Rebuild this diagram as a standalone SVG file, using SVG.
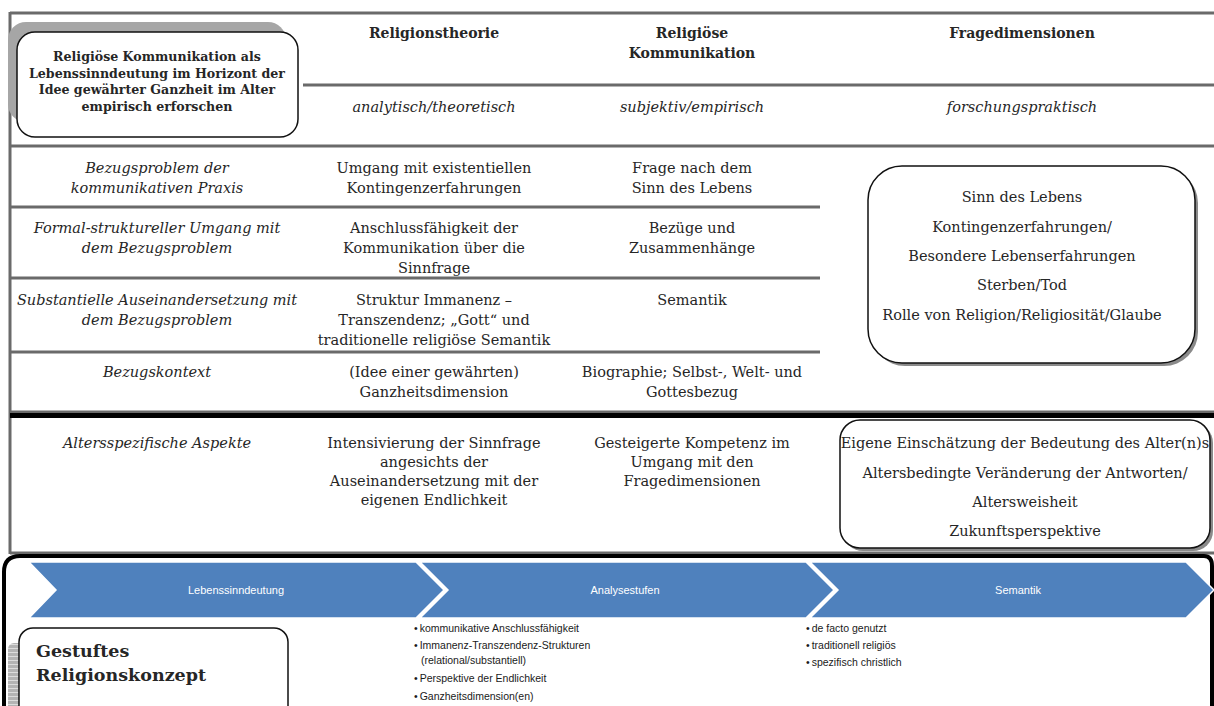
<svg xmlns="http://www.w3.org/2000/svg" width="1214" height="706" viewBox="0 0 1214 706">
<style>
.ln{stroke:#6a6a6a;stroke-width:3;fill:none}
.thick{stroke:#000;stroke-width:5;fill:none}
.hd{font-family:"DejaVu Serif",serif;font-weight:bold;font-size:14px;fill:#262626;text-anchor:middle}
.tx{font-family:"DejaVu Serif",serif;font-size:14.5px;fill:#262626;text-anchor:middle}
.it{font-family:"DejaVu Serif",serif;font-style:italic;font-size:14.5px;fill:#262626;text-anchor:middle}
.bx{font-family:"DejaVu Serif",serif;font-weight:bold;font-size:12.6px;fill:#262626;text-anchor:middle}
.big{font-family:"DejaVu Serif",serif;font-weight:bold;font-size:17.5px;fill:#262626}
.chev{fill:#4F81BD;stroke:#fff;stroke-width:1.5}
.cl{font-family:"Liberation Sans",Arial,sans-serif;font-size:11px;fill:#fff;text-anchor:middle}
.bl{font-family:"Liberation Sans",Arial,sans-serif;font-size:10.5px;fill:#1a1a1a}
.rbox{fill:#fff;stroke:#111;stroke-width:1.5}
.shadow{fill:#8a8a8a}
</style>
<defs>
<pattern id="stripes" width="6" height="4" patternUnits="userSpaceOnUse">
<rect width="6" height="4" fill="#b4b4b4"/>
<line x1="0" y1="0.5" x2="6" y2="0.5" stroke="#dcdcdc" stroke-width="1"/>
</pattern>
</defs>
<rect width="1214" height="706" fill="#fff"/>

<g id="table-lines">
<line class="ln" x1="10" y1="13" x2="1214" y2="13"/>
<line class="ln" x1="10" y1="12" x2="10" y2="554"/>
<line class="ln" x1="303" y1="85" x2="1214" y2="85"/>
<line class="ln" x1="10" y1="146" x2="1214" y2="146"/>
<line class="ln" x1="10" y1="207" x2="820" y2="207"/>
<line class="ln" x1="10" y1="278" x2="820" y2="278"/>
<line class="ln" x1="10" y1="352" x2="820" y2="352"/>
<line class="ln" x1="10" y1="412" x2="1214" y2="412" stroke-width="2"/>
<line class="thick" x1="10" y1="415.5" x2="1214" y2="415.5"/>
<line class="ln" x1="10" y1="553" x2="1214" y2="553"/>
</g>

<g id="title-box">
<rect x="8" y="22" width="278" height="100" rx="18" fill="#a6a6a6"/>
<rect class="rbox" x="17" y="32" width="281" height="105" rx="18"/>
<text class="bx" x="157" y="61">Religiöse Kommunikation als</text>
<text class="bx" x="157" y="77.5">Lebenssinndeutung im Horizont der</text>
<text class="bx" x="157" y="94">Idee gewährter Ganzheit im Alter</text>
<text class="bx" x="157" y="110.5">empirisch erforschen</text>
</g>

<g id="headers">
<text class="hd" x="434" y="38">Religionstheorie</text>
<text class="hd" x="692" y="38">Religiöse</text>
<text class="hd" x="692" y="58">Kommunikation</text>
<text class="hd" x="1022" y="38">Fragedimensionen</text>
<text class="it" x="434" y="112">analytisch/theoretisch</text>
<text class="it" x="692" y="112">subjektiv/empirisch</text>
<text class="it" x="1022" y="112">forschungspraktisch</text>
</g>

<g id="row1">
<text class="it" x="157" y="173">Bezugsproblem der</text>
<text class="it" x="157" y="193">kommunikativen Praxis</text>
<text class="tx" x="434" y="173">Umgang mit existentiellen</text>
<text class="tx" x="434" y="193">Kontingenzerfahrungen</text>
<text class="tx" x="692" y="173">Frage nach dem</text>
<text class="tx" x="692" y="193">Sinn des Lebens</text>
</g>

<g id="row2">
<text class="it" x="157" y="233">Formal-struktureller Umgang mit</text>
<text class="it" x="157" y="253">dem Bezugsproblem</text>
<text class="tx" x="434" y="233">Anschlussfähigkeit der</text>
<text class="tx" x="434" y="253">Kommunikation über die</text>
<text class="tx" x="434" y="273">Sinnfrage</text>
<text class="tx" x="692" y="233">Bezüge und</text>
<text class="tx" x="692" y="253">Zusammenhänge</text>
</g>

<g id="row3">
<text class="it" x="157" y="305">Substantielle Auseinandersetzung mit</text>
<text class="it" x="157" y="325">dem Bezugsproblem</text>
<text class="tx" x="434" y="305">Struktur Immanenz –</text>
<text class="tx" x="434" y="325">Transzendenz; „Gott“ und</text>
<text class="tx" x="434" y="345">traditionelle religiöse Semantik</text>
<text class="tx" x="692" y="305">Semantik</text>
</g>

<g id="row4">
<text class="it" x="157" y="377">Bezugskontext</text>
<text class="tx" x="434" y="377">(Idee einer gewährten)</text>
<text class="tx" x="434" y="397">Ganzheitsdimension</text>
<text class="tx" x="692" y="377">Biographie; Selbst-, Welt- und</text>
<text class="tx" x="692" y="397">Gottesbezug</text>
</g>

<g id="frage-box">
<rect class="shadow" x="871" y="169" width="327" height="197" rx="34"/>
<rect class="rbox" x="868" y="166" width="327" height="197" rx="34"/>
<text class="tx" x="1022" y="202">Sinn des Lebens</text>
<text class="tx" x="1022" y="232">Kontingenzerfahrungen/</text>
<text class="tx" x="1022" y="261">Besondere Lebenserfahrungen</text>
<text class="tx" x="1022" y="290">Sterben/Tod</text>
<text class="tx" x="1022" y="320">Rolle von Religion/Religiosität/Glaube</text>
</g>

<g id="row5">
<text class="it" x="157" y="448">Altersspezifische Aspekte</text>
<text class="tx" x="434" y="448">Intensivierung der Sinnfrage</text>
<text class="tx" x="434" y="467">angesichts der</text>
<text class="tx" x="434" y="486">Auseinandersetzung mit der</text>
<text class="tx" x="434" y="505">eigenen Endlichkeit</text>
<text class="tx" x="692" y="448">Gesteigerte Kompetenz im</text>
<text class="tx" x="692" y="467">Umgang mit den</text>
<text class="tx" x="692" y="486">Fragedimensionen</text>
</g>

<g id="alter-box">
<rect class="shadow" x="843" y="423" width="370" height="128" rx="20"/>
<rect class="rbox" x="840" y="420" width="370" height="128" rx="20"/>
<text class="tx" x="1025" y="448">Eigene Einschätzung der Bedeutung des Alter(n)s</text>
<text class="tx" x="1025" y="478">Altersbedingte Veränderung der Antworten/</text>
<text class="tx" x="1025" y="507">Altersweisheit</text>
<text class="tx" x="1025" y="536">Zukunftsperspektive</text>
</g>

<g id="bottom-frame">
<path d="M4,706 V572 Q4,556 20,556 H1204 Q1212,556 1212,566 V706" fill="none" stroke="#000" stroke-width="4"/>
</g>

<g id="chevron-lebenssinndeutung">
<polygon class="chev" points="29,562 416,562 444,590 416,618 29,618 56,590"/>
<text class="cl" x="236" y="594">Lebenssinndeutung</text>
</g>
<g id="chevron-analysestufen">
<polygon class="chev" points="420,562 806,562 834,590 806,618 420,618 448,590"/>
<text class="cl" x="625" y="594">Analysestufen</text>
</g>
<g id="chevron-semantik">
<polygon class="chev" points="810,562 1186,562 1214,590 1186,618 810,618 838,590"/>
<text class="cl" x="1018" y="594">Semantik</text>
</g>

<g id="analyse-list">
<text class="bl" x="414" y="632">•<tspan dx="2">kommunikative Anschlussfähigkeit</tspan></text>
<text class="bl" x="414" y="649">•<tspan dx="2">Immanenz-Transzendenz-Strukturen</tspan></text>
<text class="bl" x="421" y="664">(relational/substantiell)</text>
<text class="bl" x="414" y="682">•<tspan dx="2">Perspektive der Endlichkeit</tspan></text>
<text class="bl" x="414" y="700">•<tspan dx="2">Ganzheitsdimension(en)</tspan></text>
</g>

<g id="semantik-list">
<text class="bl" x="806" y="632">•<tspan dx="2">de facto genutzt</tspan></text>
<text class="bl" x="806" y="649">•<tspan dx="2">traditionell religiös</tspan></text>
<text class="bl" x="806" y="666">•<tspan dx="2">spezifisch christlich</tspan></text>
</g>

<g id="religionskonzept-box">
<rect x="8" y="643" width="20" height="70" rx="6" fill="url(#stripes)"/>
<rect class="rbox" x="19" y="628" width="269" height="100" rx="14"/>
<text class="big" x="36" y="657">Gestuftes</text>
<text class="big" x="36" y="681">Religionskonzept</text>
</g>
</svg>
